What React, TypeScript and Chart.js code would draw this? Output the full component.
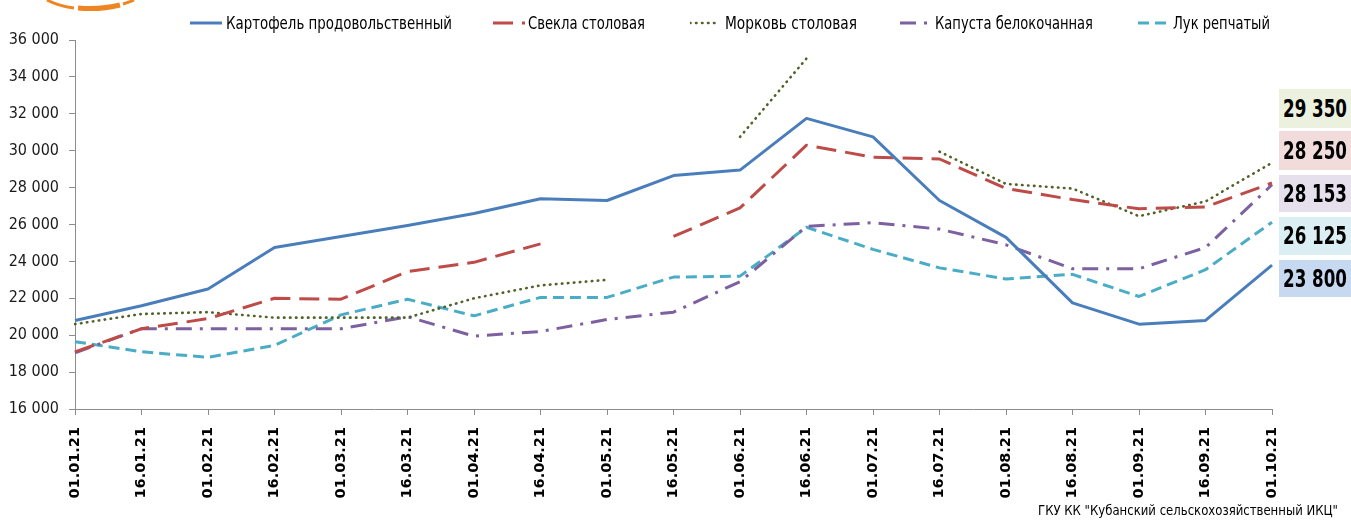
import React, { useEffect, useLayoutEffect, useRef } from "react";
import { Chart, registerables } from "chart.js";
Chart.register(...registerables);

const labels = [
  "01.01.21", "16.01.21", "01.02.21", "16.02.21", "01.03.21", "16.03.21", "01.04.21",
  "16.04.21", "01.05.21", "16.05.21", "01.06.21", "16.06.21", "01.07.21", "16.07.21",
  "01.08.21", "16.08.21", "01.09.21", "16.09.21", "01.10.21",
];

const seriesNames = [
  "Картофель продовольственный",
  "Свекла столовая",
  "Морковь столовая",
  "Капуста белокочанная",
  "Лук репчатый",
];

const potato = [20800, 21600, 22500, 24750, 25350, 25950, 26600, 27400, 27300, 28650, 28950, 31750, 30750, 27300, 25300, 21750, 20600, 20800, 23800];
const beet = [19100, 20350, 20900, 22000, 21950, 23450, 23950, 24950, null, 25350, 26900, 30300, 29650, 29550, 27950, 27350, 26850, 26950, 28250];
const carrot = [20600, 21150, 21250, 20950, 20950, 20950, 22000, 22700, 23000, null, 30750, 35000, null, 29950, 28200, 27950, 26450, 27250, 29350];
const cabbage = [19050, 20350, 20350, 20350, 20350, 21000, 19950, 20200, 20850, 21250, 22900, 25900, 26100, 25750, 24900, 23600, 23600, 24750, 28153];
const onion = [19650, 19100, 18800, 19450, 21100, 21950, 21050, 22050, 22050, 23150, 23200, 25850, 24650, 23650, 23050, 23300, 22100, 23550, 26125];

const lastValues = ["29 350", "28 250", "28 153", "26 125", "23 800"];
const sourceText = 'ГКУ КК "Кубанский сельскохозяйственный ИКЦ"';

const yMin = 16000;
const yMax = 36000;
const yStep = 2000;

const NARROW = "'DejaVu Sans Condensed', 'Liberation Sans', sans-serif";

const colors = ["#4A7EBB", "#BE4B48", "#4F6228", "#7D60A0", "#4BACC6"];
const dashes = [[], [20, 9], [0.5, 5.5], [16, 8, 3, 8], [11, 6]];
const caps = ["butt", "butt", "round", "butt", "butt"];
const widths = [3, 3, 2.6, 3, 3];

const fmt = (v: number) => String(v).replace(/\B(?=(\d{3})+(?!\d))/g, " ");

const legendPos = [
  { lineX: 190, lineW: 32, textX: 226, textW: 226 },
  { lineX: 493, lineW: 32, textX: 528, textW: 117 },
  { lineX: 690, lineW: 29, textX: 725, textW: 132 },
  { lineX: 900, lineW: 31, textX: 935, textW: 158 },
  { lineX: 1138, lineW: 30, textX: 1173, textW: 97 },
];

const boxes = [
  { top: 89, h: 39, bg: "#EBF1DE" },
  { top: 131, h: 39, bg: "#F2DCDB" },
  { top: 175, h: 37, bg: "#E6E0EC" },
  { top: 217, h: 38, bg: "#DBEEF3" },
  { top: 260, h: 37, bg: "#C6D9F1" },
];

function FitText(props: { text: string; left: number; top: number; width: number; style: any }) {
  const r = useRef<HTMLSpanElement | null>(null);
  useLayoutEffect(() => {
    const el = r.current;
    if (!el) return;
    el.style.transform = "none";
    const w = el.getBoundingClientRect().width;
    if (w > 0) el.style.transform = `scaleX(${props.width / w})`;
  }, [props.text, props.width]);
  return (
    <span
      ref={r}
      style={{
        position: "absolute",
        left: props.left,
        top: props.top,
        whiteSpace: "nowrap",
        display: "inline-block",
        transformOrigin: "0 0",
        ...props.style,
      }}
    >
      {props.text}
    </span>
  );
}

export default function App() {
  const ref = useRef<HTMLCanvasElement | null>(null);

  useEffect(() => {
    if (!ref.current) return;
    const data = [potato, beet, carrot, cabbage, onion];
    const chart = new Chart(ref.current, {
      type: "line",
      data: {
        labels,
        datasets: data.map((d, i) => ({
          label: seriesNames[i],
          data: d,
          borderColor: colors[i],
          backgroundColor: colors[i],
          borderWidth: widths[i],
          borderDash: dashes[i],
          borderCapStyle: caps[i] as any,
          borderJoinStyle: "round" as any,
          pointRadius: 0,
          tension: 0,
          spanGaps: false,
          fill: false,
        })),
      },
      options: {
        responsive: false,
        animation: false,
        devicePixelRatio: 1,
        layout: { padding: { top: 40, right: 79, left: 0, bottom: 0 } },
        plugins: { legend: { display: false }, tooltip: { enabled: false }, title: { display: false } },
        scales: {
          x: {
            grid: { display: true, drawOnChartArea: false, drawTicks: true, tickLength: 6, color: "#8C8C8C" },
            border: { display: true, color: "#8C8C8C", width: 1 },
            ticks: {
              autoSkip: false,
              minRotation: 90,
              maxRotation: 90,
              padding: 12,
              color: "#000",
              font: { family: "'DejaVu Sans', sans-serif", size: 14.5, weight: "bold" },
            },
            afterFit: (s: any) => { s.height = 111; },
          },
          y: {
            min: yMin,
            max: yMax,
            grid: { display: true, drawOnChartArea: false, drawTicks: true, tickLength: 6, color: "#8C8C8C" },
            border: { display: true, color: "#8C8C8C", width: 1 },
            ticks: {
              stepSize: yStep,
              padding: 10,
              color: "#1a1a1a",
              font: { family: NARROW, size: 16 },
              callback: (v: any) => fmt(Number(v)),
            },
            afterFit: (s: any) => { s.width = 75; },
          },
        },
      },
    });
    return () => chart.destroy();
  }, []);

  return (
    <div style={{ position: "fixed", left: 0, top: 0, width: 1351, height: 520, background: "#fff", overflow: "hidden" }}>
      <canvas ref={ref} width={1351} height={520} style={{ position: "absolute", left: 0, top: 0, width: 1351, height: 520 }} />
      <svg width={200} height={12} style={{ position: "absolute", left: 0, top: 0 }}>
        <path d="M 47 0 Q 58 6 74 8" stroke="#EE8522" strokeWidth={3} fill="none" />
        <path d="M 78 8 Q 100 10 120 5" stroke="#EE8522" strokeWidth={5} fill="none" />
        <path d="M 123 4 Q 130 2 134 0" stroke="#EE8522" strokeWidth={3} fill="none" />
      </svg>
      {seriesNames.map((name, i) => (
        <div key={name}>
          <svg width={legendPos[i].lineW} height={8} style={{ position: "absolute", left: legendPos[i].lineX, top: 19 }}>
            <line x1={0} y1={4} x2={legendPos[i].lineW} y2={4} stroke={colors[i]} strokeWidth={widths[i]}
              strokeDasharray={dashes[i].length ? dashes[i].join(" ") : undefined}
              strokeLinecap={caps[i] as any} />
          </svg>
          <FitText
            text={name}
            left={legendPos[i].textX}
            top={12}
            width={legendPos[i].textW}
            style={{ fontFamily: NARROW, fontSize: 18, lineHeight: "22px", color: "#000" }}
          />
        </div>
      ))}
      {boxes.map((b, i) => (
        <div key={i} style={{ position: "absolute", left: 1279, top: b.top, width: 72, height: b.h, background: b.bg }}>
          <FitText
            text={lastValues[i]}
            left={4}
            top={0}
            width={64}
            style={{ fontFamily: NARROW, fontWeight: "bold", fontSize: 25, lineHeight: b.h + "px", color: "#000" }}
          />
        </div>
      ))}
      <FitText
        text={sourceText}
        left={1038}
        top={502}
        width={300}
        style={{ fontFamily: NARROW, fontSize: 14, lineHeight: "17px", color: "#000" }}
      />
    </div>
  );
}
